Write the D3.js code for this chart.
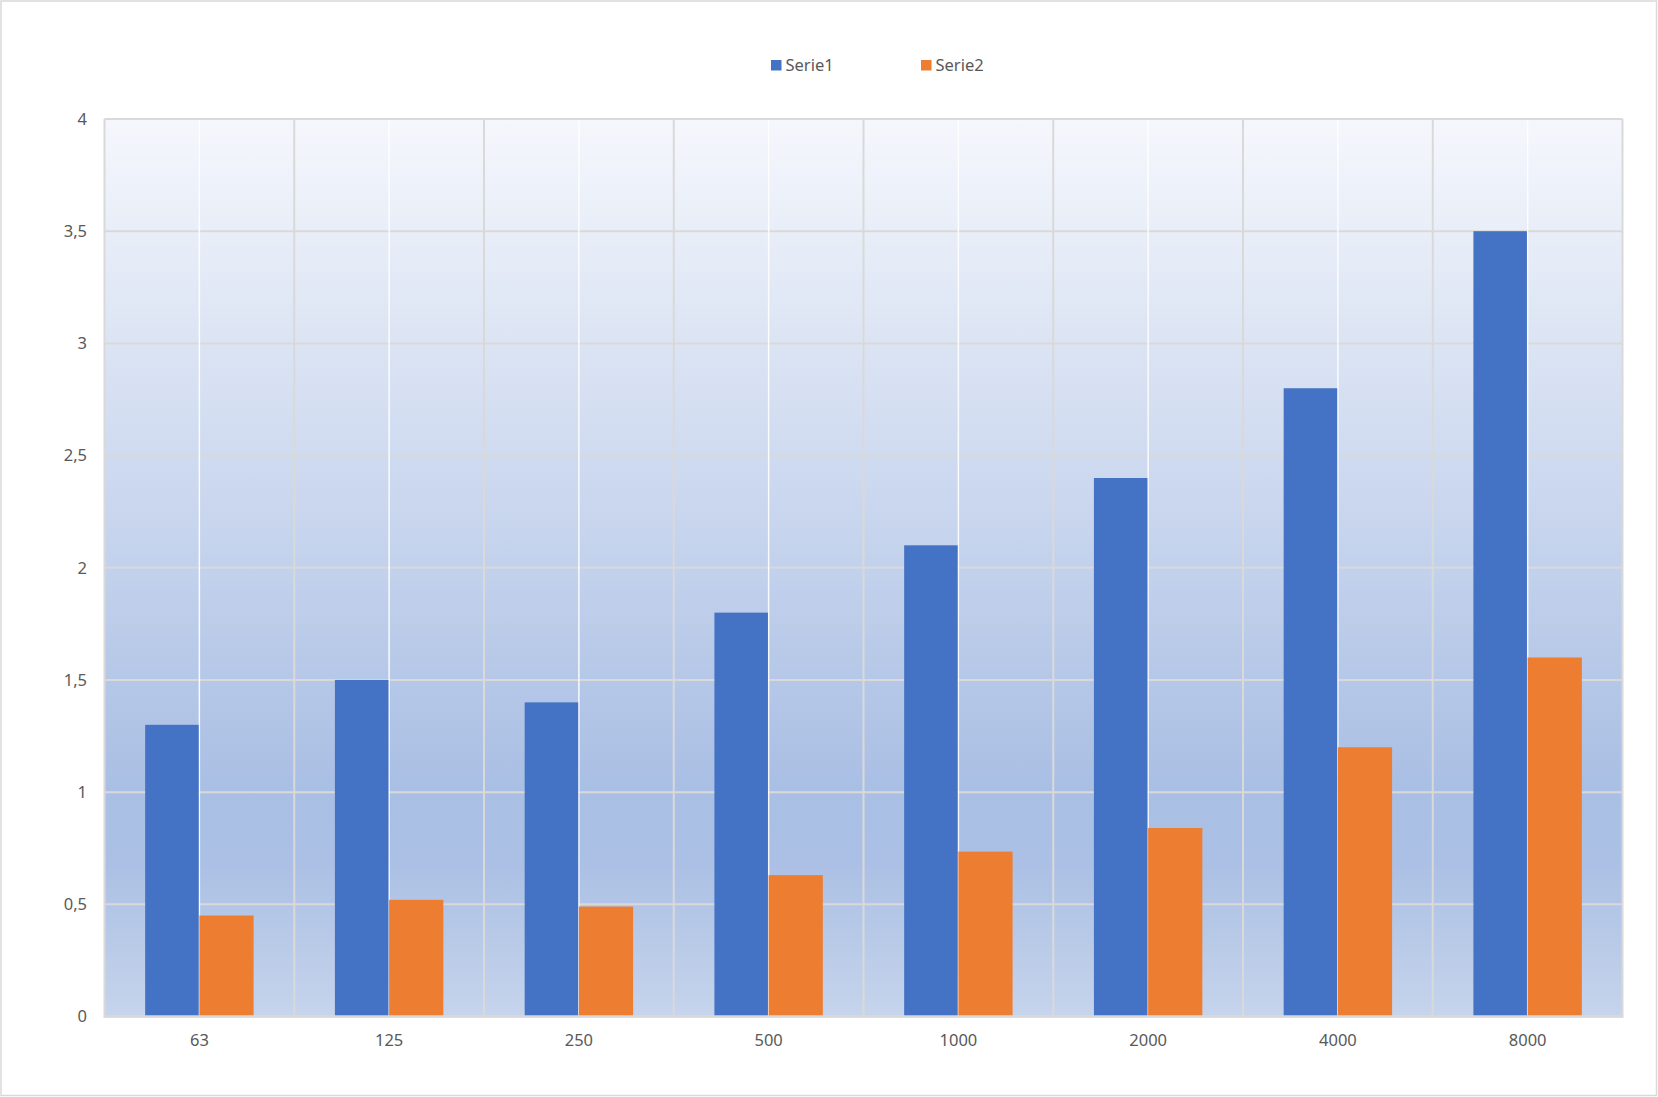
<!DOCTYPE html>
<html>
<head>
<meta charset="utf-8">
<script src="https://cdn.jsdelivr.net/npm/d3@7"></script>
<style>
  html, body { margin: 0; padding: 0; background: #ffffff; }
  svg { display: block; }
  text { font-family: "Noto Sans", "Open Sans", sans-serif; fill: #595959; }
</style>
</head>
<body>
<svg id="chart" width="1658" height="1097"></svg>
<script>
const categories = ["63", "125", "250", "500", "1000", "2000", "4000", "8000"];
const seriesNames = ["Serie1", "Serie2"];
const serie1 = [1.3, 1.5, 1.4, 1.8, 2.1, 2.4, 2.8, 3.5];
const serie2 = [0.45, 0.52, 0.49, 0.63, 0.735, 0.84, 1.2, 1.6];
const yTicks = [0, 0.5, 1, 1.5, 2, 2.5, 3, 3.5, 4];
const colors = ["#4472c4", "#ed7d31"];

const W = 1658, H = 1097;
const plot = { left: 104.5, right: 1622.5, top: 119, bottom: 1016.5 };

const svg = d3.select("#chart");

// outer chart border
svg.append("rect")
  .attr("x", 1).attr("y", 1).attr("width", W - 2.5).attr("height", H - 2.5)
  .attr("fill", "#ffffff").attr("stroke", "#d9d9d9").attr("stroke-width", 1.5);

// gradient
const defs = svg.append("defs");
const grad = defs.append("linearGradient").attr("id", "bg")
  .attr("x1", 0).attr("y1", 0).attr("x2", 0).attr("y2", 1);
[[0, "#f5f7fc"], [0.74, "#aabfe4"], [0.83, "#abc0e4"], [1, "#c6d4ec"]].forEach(([o, c]) =>
  grad.append("stop").attr("offset", o).attr("stop-color", c));

const x = d3.scaleBand().domain(categories).range([plot.left, plot.right]).padding(0);
const y = d3.scaleLinear().domain([0, 4]).range([plot.bottom, plot.top]);

svg.append("rect")
  .attr("x", plot.left).attr("y", plot.top)
  .attr("width", plot.right - plot.left).attr("height", plot.bottom - plot.top)
  .attr("fill", "url(#bg)");

// horizontal gridlines
svg.append("g").selectAll("line").data(yTicks).join("line")
  .attr("x1", plot.left).attr("x2", plot.right)
  .attr("y1", d => y(d)).attr("y2", d => y(d))
  .attr("stroke", "#d9d9d9").attr("stroke-width", 2);

// vertical gridlines at category boundaries
const bounds = categories.map(c => x(c)).concat([plot.right]);
svg.append("g").selectAll("line").data(bounds).join("line")
  .attr("x1", d => d).attr("x2", d => d)
  .attr("y1", plot.top).attr("y2", plot.bottom)
  .attr("stroke", "#d9d9d9").attr("stroke-width", 2);

// white center lines
svg.append("g").selectAll("line").data(categories).join("line")
  .attr("x1", d => x(d) + x.bandwidth() / 2).attr("x2", d => x(d) + x.bandwidth() / 2)
  .attr("y1", plot.top + 1).attr("y2", plot.bottom)
  .attr("stroke", "#ffffff").attr("stroke-width", 1.5).attr("opacity", 0.9);

// bars
const bw = x.bandwidth() / 3.5;
const data = categories.map((c, i) => ({ c, v: [serie1[i], serie2[i]] }));
seriesNames.forEach((s, si) => {
  svg.append("g").selectAll("rect").data(data).join("rect")
    .attr("x", d => si === 0 ? x(d.c) + x.bandwidth() / 2 - bw : x(d.c) + x.bandwidth() / 2)
    .attr("width", d => si === 0 ? bw - 0.7 : bw)
    .attr("y", d => y(d.v[si]))
    .attr("height", d => y(0) - y(d.v[si]))
    .attr("fill", colors[si]);
});

// bottom axis line
svg.append("line")
  .attr("x1", plot.left - 1).attr("x2", plot.right + 1)
  .attr("y1", plot.bottom).attr("y2", plot.bottom)
  .attr("stroke", "#d9d9d9").attr("stroke-width", 2.5);

// y axis labels
const loc = d3.formatLocale({ decimal: ",", thousands: ".", grouping: [3], currency: ["", ""] });
const fmt = loc.format(".1~f");
const yAxis = d3.axisLeft(y).tickValues(yTicks).tickFormat(fmt).tickSize(0).tickPadding(0);
const gy = svg.append("g").attr("transform", `translate(87,0)`).call(yAxis);
gy.select(".domain").remove();
gy.selectAll("text").attr("font-size", 16.5).attr("fill", "#595959")
  .attr("font-family", "'Noto Sans', sans-serif");

// x axis labels
const xAxis = d3.axisBottom(x).tickSize(0).tickPadding(0);
const gx = svg.append("g").attr("transform", `translate(0,${plot.bottom + 18})`).call(xAxis);
gx.select(".domain").remove();
gx.selectAll("text").attr("font-size", 16.5).attr("fill", "#595959")
  .attr("font-family", "'Noto Sans', sans-serif");

// legend
const legendX = [771, 921];
const lg = svg.append("g");
seriesNames.forEach((s, i) => {
  lg.append("rect").attr("x", legendX[i]).attr("y", 60).attr("width", 10.5).attr("height", 10.5)
    .attr("fill", colors[i]);
  lg.append("text").attr("x", legendX[i] + 14.5).attr("y", 71).attr("font-size", 16.5).text(s);
});
</script>
</body>
</html>
